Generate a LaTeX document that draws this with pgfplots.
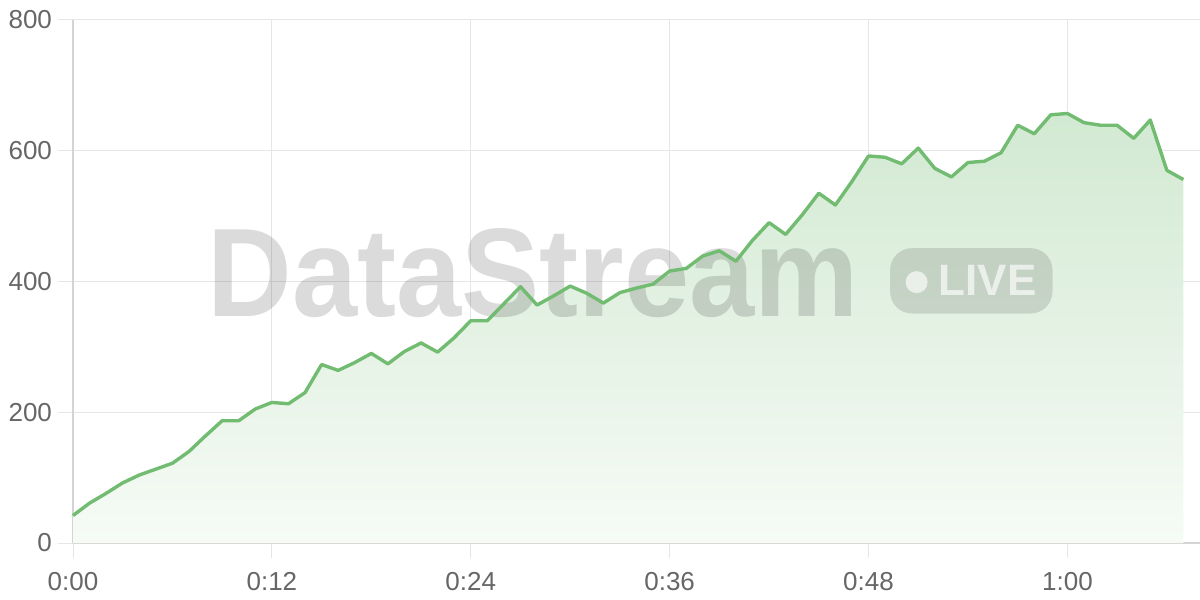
\documentclass[border=0pt]{standalone}
\usepackage{pgfplots}
\pgfplotsset{compat=1.18}
\usepackage{fontspec}
\setmainfont{Liberation Sans}
\usetikzlibrary{calc}

\definecolor{lineGreen}{RGB}{114,188,114}
\definecolor{fillTop}{RGB}{210,233,210}
\definecolor{fillBot}{RGB}{246,251,246}
\definecolor{gridGray}{RGB}{230,230,230}
\definecolor{axisGray}{RGB}{212,212,212}
\definecolor{labelGray}{RGB}{102,102,102}

\pgfplotstableread{
t   v
0   42
1   61
2   76
3   92
4   104
5   113
6   122
7   140
8   164
9   187
10  187
11  205
12  215
13  213
14  230
15  273
16  264
17  276
18  290
19  274
20  293
21  306
22  292
23  314
24  340
25  340
26  366
27  392
28  364
29  378
30  393
31  382
32  367
33  383
34  390
35  396
36  416
37  420
38  439
39  447
40  431
41  463
42  490
43  472
44  502
45  535
46  517
47  553
48  592
49  590
50  580
51  604
52  573
53  560
54  582
55  584
56  597
57  639
58  626
59  655
60  657
61  643
62  639
63  639
64  619
65  647
66  570
67  556
}\series

\begin{document}
\begin{tikzpicture}
\begin{axis}[
    scale only axis,
    width=563.5pt,
    height=261.5pt,
    xmin=0, xmax=68,
    ymin=0, ymax=800,
    separate axis lines,
    axis x line*=bottom,
    axis y line*=left,
    x axis line style={draw=axisGray, line width=0.8pt},
    y axis line style={draw=axisGray, line width=0.8pt},
    xtick={0,12,24,36,48,60},
    xticklabels={0:00,0:12,0:24,0:36,0:48,1:00},
    ytick={0,200,400,600,800},
    yticklabels={0,200,400,600,800},
    tick align=outside,
    major tick length=7.5pt,
    tick style={draw=gridGray, line width=0.5pt},
    grid=major,
    major grid style={draw=gridGray, line width=0.5pt},
    tick label style={font=\fontsize{13}{15}\selectfont, text=labelGray},
    xticklabel style={yshift=-3.5pt},
    yticklabel style={xshift=0.5pt},
    clip=false,
]
\addplot[draw=none, top color=fillTop, bottom color=fillBot]
    table[x=t, y=v] {\series} \closedcycle;

\node[inner sep=0pt, text=black, text opacity=0.14, xscale=0.93,
      font=\fontsize{63}{63}\selectfont\bfseries]
    at (axis cs:27.77,413) {DataStream};
\fill[black, opacity=0.12, rounded corners=11pt]
    (axis cs:49.3,451) rectangle (axis cs:59.1,351);
\fill[white, opacity=0.65] (axis cs:50.9,399) circle[radius=5.5pt];
\node[inner sep=0pt, anchor=west, text=white, text opacity=0.65,
      font=\fontsize{22}{22}\selectfont\bfseries]
    at (axis cs:52.2,401) {LIVE};

\addplot[draw=lineGreen, line width=1.7pt, line join=round, mark=none]
    table[x=t, y=v] {\series};

\coordinate (sw) at (rel axis cs:0,0);
\coordinate (ne) at (rel axis cs:1,1);
\end{axis}
\pgfresetboundingbox
\useasboundingbox ($(sw)+(-36.5pt,-28.5pt)$) rectangle ($(ne)+(0,10pt)$);
\end{tikzpicture}
\end{document}
